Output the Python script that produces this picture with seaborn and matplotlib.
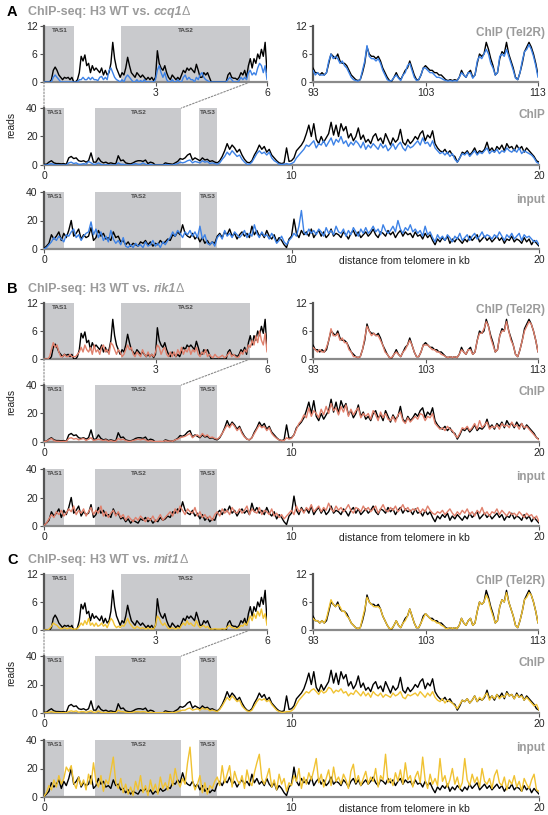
import numpy as np
import pandas as pd
import matplotlib
matplotlib.use("Agg")
import matplotlib.pyplot as plt
import seaborn as sns
from matplotlib.patches import ConnectionPatch

# ---------------- data ----------------
# positions (kb) : zoom 0-6 kb (0.05 kb bins), Tel2R 93-113 kb (0.2 kb bins), 0-20 kb (0.1 kb bins)
tas_kb = np.round(np.arange(0, 121) * 0.05, 3)
tel_kb = np.round(93 + np.arange(0, 101) * 0.2, 3)
trk_kb = np.round(np.arange(0, 201) * 0.1, 3)

tas_names = ["TAS1", "TAS2", "TAS3"]
tas_start = [0.04, 2.07, 6.26]
tas_end = [0.80, 5.55, 6.98]

wt_tas = [0, 0, 0, 0, 0.5, 2.5, 3.2, 2.5, 1.5, 1.0,
          0.5, 1, 0.8, 1, 0.5, 1, 0, 0, 0.5, 2,
          5.5, 4.5, 5.8, 3.5, 4, 2, 3.5, 2.5, 3, 2.5,
          2, 3, 1.5, 2.5, 1.5, 2, 4, 8.5, 5, 3,
          2, 1, 2, 1.5, 3, 5.3, 3.5, 2, 1.5, 1,
          2, 1.5, 1, 1.5, 1, 0.5, 1, 0.5, 1, 0.3,
          1, 6.7, 4, 3, 2.5, 3.5, 2, 1, 0.5, 1.5,
          1, 0.5, 1, 0.5, 1.5, 2.5, 2, 3, 2.5, 3,
          2.5, 2, 3.8, 2.5, 1, 1, 2, 1.5, 2, 1,
          0, 0, 0, 0, 0, 0, 0, 0, 0, 1.5,
          2, 1, 0.8, 0.8, 0.5, 1, 2, 1.5, 2.5, 1,
          3.5, 5, 3, 5, 4, 6, 5, 7, 5.5, 8.5,
          2]
ccq1_tas = [0, 0, 0, 0, 0, 1, 1.5, 1, 0.5, 0,
            0, 0, 0, 0, 0, 0, 0, 0, 0, 0.5,
            0.5, 1, 0.5, 0.5, 1, 0.5, 1, 0.5, 0.5, 0.3,
            1, 1.2, 0.5, 1, 0.5, 2.5, 3, 2, 1, 0.5,
            0.3, 0, 0.5, 0, 1, 1.5, 1, 0.5, 0, 0,
            0.5, 0, 0.3, 0, 0.5, 0, 0, 0, 0, 0,
            0.5, 2.5, 3.5, 2, 1, 2, 0.5, 0, 0, 0.5,
            0, 0, 0.5, 0, 0, 1, 1.5, 0.5, 1, 0.5,
            0.5, 0, 1, 0.5, 1.5, 2, 1, 0.5, 0.3, 0,
            0, 0, 0, 0, 0, 0, 0, 0, 0, 0.5,
            1, 0.5, 0, 0, 0, 0.3, 1, 0.5, 1, 0.5,
            2, 2.5, 1.5, 2, 1.5, 3, 4, 3.5, 2, 3.5,
            0.5]
rik1_tas = [0, 0, 0, 0.5, 2, 3.5, 2.5, 3, 1.5, 0.5,
            0.5, 1, 0.5, 0.5, 1, 0.5, 0.5, 0.5, 1, 1.5,
            2.5, 1.5, 3, 2, 1.5, 2.5, 1, 3, 1.5, 2,
            1, 2.5, 3, 1.5, 2, 1, 3.5, 3, 2, 1,
            2, 1.5, 0.5, 1, 2, 3, 2, 2.5, 1, 0.5,
            1.5, 1, 0.5, 2, 1, 0.5, 1.5, 0.5, 1, 0.5,
            1.5, 3, 2.5, 1, 2, 2.5, 1, 0.5, 1.5, 0.5,
            1.5, 0.5, 2, 1, 2.5, 1, 2, 1.5, 2.5, 1,
            2, 1.5, 2.5, 1, 0.5, 1.5, 1, 2, 0.5, 1,
            0.5, 0.3, 1, 0.5, 0.3, 0.5, 0.8, 0.3, 0.5, 1,
            1.5, 0.5, 1, 0.5, 0.3, 0.5, 1.5, 1, 2, 1.5,
            3, 2.5, 4, 3, 5, 3.5, 6, 4, 3, 5.5,
            1.5]
mit1_tas = [0, 0, 0, 0.3, 0.8, 1.5, 1.2, 1, 0.5, 0.3,
            0.3, 0.5, 0.3, 0.3, 0.5, 0.3, 0.2, 0.2, 0.3, 0.8,
            1.5, 1, 2, 1.2, 2.5, 1, 1.5, 0.8, 1.5, 0.8,
            1, 1.5, 0.8, 1.2, 0.5, 1.5, 2.5, 2, 1, 0.5,
            0.8, 0.5, 1, 0.8, 1.5, 2.5, 1.5, 1, 0.5, 0.3,
            0.8, 0.5, 0.3, 0.5, 0.3, 0.2, 0.5, 0.2, 0.3, 0.2,
            1, 3, 2.5, 1.5, 1, 1.5, 0.8, 0.3, 0.3, 0.5,
            0.3, 0.2, 0.5, 0.3, 1, 1.5, 1, 2, 1.2, 1.5,
            1, 0.8, 2, 1, 0.5, 0.8, 1, 0.5, 0.8, 0.3,
            0.2, 0.2, 0.3, 0.2, 0.2, 0.2, 0.3, 0.2, 0.3, 0.8,
            1, 0.5, 0.5, 0.3, 0.3, 0.5, 1, 0.8, 1.5, 1,
            2, 3, 2, 3.5, 2.5, 4, 3, 4.5, 2.5, 3.5,
            1]

wt_tel = [3, 2, 2, 1.5, 2, 1.5, 2, 4, 6, 5.5,
          5, 6, 4.5, 4, 4, 3.5, 2.5, 1.5, 1, 0.5,
          0.3, 0.5, 2, 4, 7.5, 6, 5.5, 5.5, 5, 5.5,
          4.5, 3, 2, 1, 0.3, 0.2, 1, 2, 1, 0.5,
          1.5, 2.5, 3, 4.5, 3, 1.5, 0.5, 0.5, 1.5, 3,
          3.5, 3, 2.5, 2.5, 2, 2, 1.5, 1.5, 1, 0.5,
          0.3, 0.5, 0.3, 0.5, 0.3, 1, 2.5, 1.5, 1, 2,
          2.5, 1, 1.5, 4, 6, 5.5, 6, 8.5, 7, 5,
          3.5, 1.5, 2, 5, 6.5, 6, 8.5, 6, 4.5, 3,
          1, 0.5, 2, 4, 6.5, 7.5, 8.5, 7.5, 6, 4,
          1.5]
ccq1_tel = [2.5, 1.5, 2, 1.5, 1.5, 1.5, 2, 4.5, 6, 5,
            5.5, 5, 4, 4.5, 3.5, 3, 2, 1, 0.5, 0.3,
            0.2, 0.5, 2.5, 4.5, 7.8, 5.5, 5, 5, 4.5, 5,
            4, 2.5, 1.5, 0.5, 0.2, 0.3, 1, 1.5, 0.8, 0.3,
            1.5, 2, 3.5, 4, 2.5, 1, 0.3, 0.5, 1.5, 3,
            3, 2.5, 2, 2, 1.5, 1, 1, 0.8, 0.5, 0.3,
            0.2, 0.3, 0.2, 0.3, 0.2, 1, 2, 1.5, 1, 2,
            2, 0.8, 1.5, 4.5, 5.5, 5, 6, 7, 6, 4,
            3, 1.5, 2, 5.5, 6, 5.5, 7, 5.5, 4, 2.5,
            0.8, 0.5, 2, 4.5, 6.5, 7, 8, 7, 5.5, 3.5,
            1]
rik1_tel = [2.5, 2, 1.5, 2, 1.5, 1.5, 2.5, 4, 6.5, 5,
            5, 5.5, 4, 4.5, 3.5, 3.5, 2, 1.5, 0.5, 0.5,
            0.3, 0.5, 2, 4.5, 7, 6, 5, 5.5, 5, 5,
            4, 3, 1.5, 1, 0.3, 0.3, 1, 1.5, 1, 0.5,
            1.5, 2, 3, 4, 3, 1.5, 0.5, 0.5, 1.5, 3,
            3, 3, 2.5, 2, 2, 1.5, 1.5, 1, 0.8, 0.5,
            0.3, 0.5, 0.3, 0.5, 0.3, 1, 2, 1.5, 1, 2,
            2, 1, 1.5, 4, 5.5, 5.5, 6.5, 8, 7, 4.5,
            3, 1.5, 2, 5, 6, 6, 8, 6, 4, 3,
            1, 0.5, 2, 4, 6, 7, 8, 7.5, 6, 4,
            1.5]
mit1_tel = [2.5, 2, 2, 1.5, 2, 1.5, 2.5, 4.5, 6.5, 5.5,
            5, 5.5, 5, 4, 4, 3, 2.5, 1.5, 1, 0.5,
            0.3, 0.5, 2.5, 4.5, 7, 6, 5.5, 5, 5, 5,
            4.5, 3, 2, 1, 0.3, 0.3, 1, 2, 1, 0.5,
            1.5, 2, 3, 4.5, 3, 1.5, 0.5, 0.5, 1.5, 2.5,
            3.5, 3, 2.5, 2, 2, 1.5, 1.5, 1, 0.8, 0.3,
            0.3, 0.5, 0.3, 0.5, 0.3, 1, 2.5, 1.5, 1, 2,
            2.5, 1, 1.5, 4, 6, 5.5, 6, 7.5, 6.5, 4.5,
            3, 1.5, 2, 5, 6.5, 6, 8, 6, 4.5, 3,
            1, 0.5, 2, 4, 6.5, 7, 8, 7.5, 6, 4,
            1.5]

wt_chip = [0.5, 0.5, 2, 3, 1.5, 1, 1, 0.8, 1, 0.5,
           5, 6, 4.5, 5, 3, 2.5, 3, 2, 3, 8.5,
           2, 2, 5, 2.5, 1.5, 2, 1, 1.5, 1, 0.8,
           6.5, 3, 3.5, 1.5, 1, 0.8, 1.5, 2.5, 3, 3,
           2.5, 3.5, 1, 2, 1.5, 0, 0, 0, 0, 1.5,
           1, 0.8, 0.5, 1.5, 2.5, 4.5, 4, 5, 7, 8,
           3.5, 5, 4, 3, 5, 3.5, 4, 2.5, 3, 2,
           1.5, 3, 6, 10, 15, 11, 14, 12, 9, 11,
           7, 4, 2, 1.5, 3, 7, 10, 14, 11, 13,
           9, 11, 7, 5, 3, 1.5, 1, 1.5, 12, 2.5,
           3, 5, 10, 12, 14, 17, 22, 28, 20, 29,
           18, 15, 20, 16, 19, 22, 30, 21, 28, 20,
           29, 24, 27, 19, 22, 17, 20, 26, 18, 21,
           16, 18, 15, 20, 22, 17, 19, 15, 22, 18,
           14, 19, 16, 18, 25, 16, 14, 18, 15, 17,
           20, 18, 22, 24, 17, 21, 19, 24, 15, 12,
           10, 9, 11, 8, 10, 7, 6, 2, 5, 9,
           8, 10, 7, 9, 12, 8, 10, 9, 11, 16,
           10, 12, 9, 13, 11, 14, 10, 15, 12, 13,
           10, 14, 11, 13, 9, 12, 10, 8, 6, 3,
           2]
ccq1_chip = [0, 0, 0.5, 1, 0.3, 0, 0, 0, 0, 0,
             1.5, 2, 1, 1.5, 0.5, 0.5, 1, 0.5, 2.5, 1.5,
             0.5, 0.5, 1.5, 0.5, 0, 0.3, 0, 0, 0, 0,
             1.5, 0.5, 0.5, 0, 0, 0, 0.5, 1, 0.5, 0.5,
             1.5, 0.5, 0, 0.5, 0, 0, 0, 0, 0, 0.3,
             0.3, 0, 0, 0.5, 1, 2, 1.5, 2, 3, 3.5,
             1.5, 2.5, 2, 1.5, 3, 2, 2.5, 1, 1.5, 1,
             0.5, 1.5, 4, 6, 9, 7, 10, 8, 6, 7,
             4, 2, 0.5, 0.5, 2, 5, 8, 10, 8, 9,
             7, 9, 5, 3, 2, 0.5, 0.5, 0.5, 1, 0.5,
             1, 2, 5, 7, 9, 11, 14, 13, 15, 17,
             12, 15, 14, 17, 13, 16, 19, 14, 18, 16,
             20, 15, 17, 13, 16, 14, 17, 15, 12, 16,
             11, 14, 12, 15, 13, 11, 15, 12, 14, 10,
             12, 15, 11, 14, 16, 12, 10, 14, 12, 13,
             15, 17, 14, 19, 15, 16, 13, 17, 12, 10,
             8, 9, 7, 9, 6, 8, 4, 2, 5, 8,
             7, 9, 6, 8, 10, 7, 9, 8, 10, 12,
             8, 10, 9, 11, 8, 10, 9, 12, 10, 9,
             11, 9, 12, 8, 10, 9, 8, 7, 5, 2,
             1]
rik1_chip = [0.3, 0.5, 1.5, 2.5, 1, 0.5, 0.5, 0.3, 0.5, 0.3,
             2.5, 3, 2, 2.5, 1.5, 2, 2.5, 1, 2, 3,
             1, 1.5, 2, 1.5, 1, 1.5, 0.5, 1, 0.5, 0.5,
             2.5, 1.5, 2, 1, 0.5, 0.5, 1, 1.5, 2, 1.5,
             2, 1.5, 0.5, 1, 0.5, 0.3, 0.3, 0.5, 0.3, 1,
             0.5, 0.8, 0.5, 1.5, 2, 3, 3.5, 4, 5, 6,
             3, 4.5, 5, 3.5, 6, 4, 5, 3, 3.5, 2.5,
             2, 3.5, 6, 9, 12, 10, 13, 11, 8, 10,
             6, 3.5, 2, 1.5, 3, 6, 9, 12, 10, 11,
             8, 10, 6, 4, 2.5, 1.5, 1, 1, 3, 2,
             2.5, 5, 9, 13, 15, 19, 17, 24, 18, 22,
             20, 17, 23, 19, 25, 20, 27, 22, 24, 19,
             25, 21, 26, 18, 23, 19, 22, 24, 17, 20,
             18, 20, 16, 22, 19, 15, 21, 17, 20, 16,
             15, 18, 14, 19, 21, 15, 13, 17, 14, 16,
             18, 16, 20, 19, 15, 18, 17, 20, 13, 11,
             9, 10, 8, 11, 9, 8, 5, 3, 6, 10,
             9, 11, 8, 10, 13, 9, 15, 10, 12, 14,
             9, 11, 10, 12, 9, 13, 11, 12, 10, 14,
             11, 12, 9, 13, 10, 11, 9, 7, 5, 3,
             1.5]
mit1_chip = [0, 0.2, 0.5, 1, 0.5, 0.3, 0.3, 0.2, 0.3, 0.2,
             1, 1.5, 1, 1.5, 0.5, 1, 1, 0.5, 1, 1.5,
             0.5, 0.5, 1.5, 0.5, 0.3, 0.5, 0.3, 0.3, 0.3, 0.2,
             2, 1, 1, 0.5, 0.3, 0.3, 0.5, 1, 1, 0.8,
             1, 0.8, 0.3, 0.5, 0.3, 0.2, 0.2, 0.2, 0.2, 0.5,
             0.3, 0.3, 0.3, 0.5, 1, 1.5, 2, 2, 3, 3.5,
             2, 2.5, 3, 2, 3.5, 2.5, 3, 1.5, 2, 1.5,
             1, 2.5, 5, 8, 11, 9, 12, 10, 8, 9,
             5, 3, 1.5, 1, 2, 5, 8, 10, 9, 10,
             8, 9, 6, 4, 2, 1, 0.5, 0.5, 1, 1,
             1.5, 3, 6, 9, 11, 13, 15, 14, 16, 17,
             15, 13, 16, 14, 15, 18, 17, 14, 16, 15,
             17, 14, 15, 12, 14, 13, 16, 14, 12, 15,
             12, 14, 11, 15, 13, 12, 14, 11, 13, 12,
             11, 14, 12, 13, 15, 11, 10, 13, 12, 13,
             14, 12, 15, 13, 11, 14, 12, 15, 11, 9,
             8, 10, 7, 9, 8, 7, 5, 3, 6, 9,
             8, 10, 7, 9, 12, 8, 11, 9, 12, 14,
             9, 12, 10, 13, 10, 12, 11, 14, 12, 13,
             10, 13, 11, 12, 9, 11, 9, 7, 5, 6,
             2]

wt_input = [0.5, 2, 4, 10, 7, 9, 12, 6, 11, 8,
            13, 20, 9, 11, 14, 7, 10, 8, 9, 15,
            6, 8, 13, 9, 11, 7, 8, 6, 12, 8,
            9, 5, 6, 3, 5, 2, 4, 3, 2, 5,
            4, 6, 3, 5, 2, 4, 3, 6, 4, 5,
            7, 6, 10, 9, 12, 10, 17, 11, 9, 8,
            11, 7, 9, 5, 8, 4, 6, 3, 5, 4,
            9, 11, 8, 12, 10, 14, 9, 11, 7, 10,
            12, 9, 11, 8, 16, 10, 13, 9, 11, 8,
            13, 9, 7, 10, 5, 8, 6, 3, 1, 7,
            9, 21, 11, 8, 13, 10, 12, 9, 14, 8,
            11, 13, 9, 12, 8, 10, 14, 9, 11, 10,
            8, 12, 10, 7, 11, 13, 9, 12, 8, 10,
            12, 9, 11, 14, 10, 8, 12, 11, 9, 13,
            10, 12, 8, 11, 13, 9, 12, 10, 11, 8,
            12, 9, 10, 7, 11, 8, 10, 6, 3, 7,
            5, 8, 6, 9, 4, 7, 5, 8, 6, 4,
            7, 5, 9, 6, 8, 10, 5, 7, 9, 6,
            8, 5, 7, 9, 6, 8, 4, 7, 6, 9,
            5, 7, 6, 4, 8, 5, 7, 3, 6, 4,
            2]
ccq1_input = [0, 1, 3, 5, 8, 6, 9, 7, 5, 10,
              9, 12, 14, 8, 10, 6, 9, 11, 12, 19,
              10, 14, 8, 12, 6, 9, 5, 13, 7, 4,
              6, 3, 8, 2, 1, 3, 1, 4, 2, 3,
              1, 5, 2, 3, 6, 2, 4, 1, 5, 3,
              6, 8, 12, 9, 13, 11, 8, 12, 10, 13,
              9, 12, 8, 16, 7, 10, 4, 3, 5, 2,
              8, 10, 7, 13, 9, 11, 8, 12, 10, 8,
              10, 13, 8, 11, 9, 17, 11, 8, 12, 9,
              10, 7, 11, 8, 4, 6, 9, 5, 3, 6,
              8, 11, 9, 16, 27, 12, 10, 14, 11, 13,
              10, 14, 12, 9, 15, 11, 13, 10, 16, 12,
              11, 14, 9, 13, 10, 15, 12, 9, 14, 11,
              15, 11, 13, 16, 12, 14, 10, 17, 13, 11,
              13, 16, 12, 20, 14, 11, 15, 13, 17, 12,
              14, 11, 13, 9, 16, 10, 12, 8, 5, 10,
              7, 9, 6, 10, 8, 5, 9, 7, 11, 6,
              8, 10, 6, 9, 11, 7, 9, 12, 8, 10,
              9, 7, 10, 8, 12, 9, 6, 10, 8, 11,
              7, 9, 11, 6, 10, 8, 9, 7, 5, 6,
              3]
rik1_input = [0.5, 2, 5, 8, 6, 10, 8, 11, 7, 9,
              12, 10, 14, 8, 11, 9, 12, 7, 10, 13,
              8, 11, 9, 14, 7, 10, 6, 9, 11, 7,
              10, 6, 8, 4, 7, 5, 3, 6, 4, 7,
              5, 3, 6, 4, 7, 3, 5, 8, 4, 6,
              8, 10, 7, 12, 9, 14, 11, 8, 12, 10,
              9, 13, 7, 10, 6, 8, 5, 7, 4, 8,
              10, 7, 12, 9, 11, 8, 13, 10, 9, 12,
              9, 11, 14, 8, 12, 10, 9, 13, 8, 11,
              10, 8, 12, 7, 9, 6, 8, 5, 7, 9,
              11, 8, 14, 10, 12, 9, 13, 11, 15, 10,
              12, 14, 10, 13, 11, 16, 12, 10, 14, 11,
              13, 10, 12, 15, 11, 9, 13, 12, 10, 14,
              11, 13, 10, 12, 14, 9, 12, 15, 11, 10,
              13, 11, 14, 10, 12, 15, 11, 13, 10, 12,
              11, 13, 9, 12, 10, 14, 11, 9, 8, 10,
              9, 11, 8, 10, 12, 9, 7, 10, 8, 11,
              9, 12, 8, 10, 7, 11, 9, 13, 8, 10,
              7, 10, 9, 12, 8, 11, 9, 7, 10, 8,
              9, 7, 10, 8, 6, 9, 7, 8, 5, 7,
              3]
mit1_input = [0.5, 3, 8, 5, 12, 7, 15, 9, 13, 21,
              18, 22, 10, 6, 14, 8, 12, 5, 16, 9,
              24, 11, 7, 15, 4, 12, 9, 18, 28, 10,
              6, 13, 3, 9, 2, 7, 1, 11, 5, 15,
              3, 8, 1, 12, 4, 9, 2, 14, 6, 10,
              5, 16, 8, 20, 11, 7, 13, 9, 24, 35,
              12, 5, 9, 15, 3, 10, 2, 8, 6, 11,
              14, 8, 22, 10, 16, 22, 7, 18, 12, 9,
              15, 6, 19, 11, 8, 17, 24, 30, 13, 9,
              14, 20, 7, 12, 5, 16, 9, 13, 4, 10,
              8, 15, 11, 20, 6, 14, 9, 17, 12, 19,
              27, 10, 16, 7, 13, 19, 8, 21, 11, 14,
              9, 16, 12, 6, 18, 23, 10, 15, 8, 13,
              18, 9, 14, 11, 20, 7, 15, 12, 30, 10,
              13, 8, 17, 11, 19, 9, 24, 12, 15, 7,
              14, 18, 10, 28, 12, 6, 16, 9, 13, 8,
              27, 11, 15, 7, 12, 20, 9, 14, 6, 10,
              27, 12, 8, 16, 10, 14, 7, 20, 11, 9,
              13, 6, 15, 19, 10, 8, 14, 5, 12, 9,
              15, 7, 11, 4, 13, 9, 6, 12, 16, 5,
              4]

panel_letters = ["A", "B", "C"]
mutant_names = ["ccq1", "rik1", "mit1"]
mutant_colors = ["#3d82e6", "#e0806c", "#f0c232"]
mutant_data = [
    (ccq1_tas, ccq1_tel, ccq1_chip, ccq1_input),
    (rik1_tas, rik1_tel, rik1_chip, rik1_input),
    (mit1_tas, mit1_tel, mit1_chip, mit1_input),
]
panel_offsets = [0, 277, 548]

# ---------------- figure ----------------
sns.set_style("white")
plt.rcParams['font.family'] = ['Liberation Sans', 'DejaVu Sans']

W, H = 548, 815
fig = plt.figure(figsize=(W / 100, H / 100), dpi=100)

GRAY_TXT = "#9b9b9b"
BOX = "#c9cacd"


def ax_px(x0, y0, x1, y1):
    return fig.add_axes([x0 / W, 1 - y1 / H, (x1 - x0) / W, (y1 - y0) / H])


def style(ax, xlim, ylim, xticks, yticks):
    ax.set_xlim(*xlim)
    ax.set_ylim(*ylim)
    for s in ["top", "right"]:
        ax.spines[s].set_visible(False)
    ax.spines["left"].set_color("#555555")
    ax.spines["left"].set_linewidth(1.6)
    ax.spines["bottom"].set_color("#8a8a8a")
    ax.spines["bottom"].set_linewidth(1.6)
    ax.set_xticks(xticks)
    ax.set_yticks(yticks)
    ax.tick_params(axis="both", length=3, width=0.8, color="#555555",
                   labelsize=7.5, pad=1.5, direction="out",
                   bottom=True, left=True)
    ax.set_xlabel("")
    ax.set_ylabel("")
    ax.patch.set_alpha(0)


def draw_tas(ax, n):
    for name, s, e in list(zip(tas_names, tas_start, tas_end))[:n]:
        ax.axvspan(s, e, ymin=0, ymax=1, color=BOX, lw=0, zorder=0)
        ax.text((s + e) / 2, 0.97, name, transform=ax.get_xaxis_transform(),
                ha="center", va="top", fontsize=4.6, fontweight="bold",
                color="#4a4a4a", zorder=1)


def lines(ax, x, ys, colors):
    for y, c in zip(ys, colors):
        df = pd.DataFrame({"kb": x, "reads": y})
        sns.lineplot(data=df, x="kb", y="reads", ax=ax, color=c, linewidth=1.0,
                     estimator=None, legend=False, zorder=3)


title_items = []
for p in range(3):
    dy = panel_offsets[p]
    col = mutant_colors[p]
    m_tas, m_tel, m_chip, m_inp = mutant_data[p]

    # title
    fig.text(7 / W, 1 - (12 + dy) / H, panel_letters[p], fontsize=10.5,
             fontweight="bold", va="center", ha="left", color="black")
    t1 = fig.text(28 / W, 1 - (12 + dy) / H, "ChIP-seq: H3 WT vs. ", fontsize=9,
                  fontweight="bold", color=GRAY_TXT, va="center", ha="left")
    title_items.append((t1, mutant_names[p], dy))

    # zoom 0-6 kb
    axz = ax_px(44, 26 + dy, 267, 82 + dy)
    draw_tas(axz, 2)
    lines(axz, tas_kb, [wt_tas, m_tas], ["black", col])
    style(axz, (0, 6), (0, 12), [3, 6], [0, 6, 12])

    # Tel2R
    axt = ax_px(313, 26 + dy, 538, 82 + dy)
    lines(axt, tel_kb, [wt_tel, m_tel], ["black", col])
    style(axt, (93, 113), (0, 12), [93, 103, 113], [0, 6, 12])
    fig.text(545 / W, 1 - (33 + dy) / H, "ChIP (Tel2R)", fontsize=8.5,
             fontweight="bold", color=GRAY_TXT, ha="right", va="center")

    # ChIP track
    axc = ax_px(44, 108 + dy, 539, 165 + dy)
    draw_tas(axc, 3)
    lines(axc, trk_kb, [wt_chip, m_chip], ["black", col])
    style(axc, (0, 20), (0, 40), [0, 10, 20], [0, 20, 40])
    fig.text(545 / W, 1 - (115 + dy) / H, "ChIP", fontsize=8.5,
             fontweight="bold", color=GRAY_TXT, ha="right", va="center")
    fig.text(11 / W, 1 - (125 + dy) / H, "reads", fontsize=7.5, rotation=90,
             ha="center", va="center", color="#222222")

    # input track
    axi = ax_px(44, 192 + dy, 539, 249 + dy)
    draw_tas(axi, 3)
    lines(axi, trk_kb, [wt_input, m_inp], ["black", col])
    style(axi, (0, 20), (0, 40), [0, 10, 20], [0, 20, 40])
    fig.text(545 / W, 1 - (200 + dy) / H, "input", fontsize=8.5,
             fontweight="bold", color=GRAY_TXT, ha="right", va="center")
    fig.text(404 / W, 1 - (261 + dy) / H, "distance from telomere in kb",
             fontsize=7.5, ha="center", va="center", color="#222222")

    # zoom connectors
    for xa in (0.0, 5.55):
        cp = ConnectionPatch(xyA=(xa, 0), coordsA=axz.transData,
                             xyB=(xa, 40), coordsB=axc.transData,
                             linestyle=(0, (1.5, 1.5)), color="#8a8a8a",
                             lw=0.8, zorder=5)
        fig.add_artist(cp)

# italic gene names after the title prefix
fig.canvas.draw()
rend = fig.canvas.get_renderer()
for t1, gene, dy in title_items:
    bb = t1.get_window_extent(rend)
    x_px = bb.x1
    t2 = fig.text(x_px / W, 1 - (12 + dy) / H, gene, fontsize=9, fontweight="bold",
                  fontstyle="italic", color=GRAY_TXT, va="center", ha="left")
    fig.canvas.draw()
    bb2 = t2.get_window_extent(rend)
    fig.text(bb2.x1 / W, 1 - (12 + dy) / H, "\u0394", fontsize=9,
             color=GRAY_TXT, va="center", ha="left")

fig.savefig("out.png", dpi=100)
